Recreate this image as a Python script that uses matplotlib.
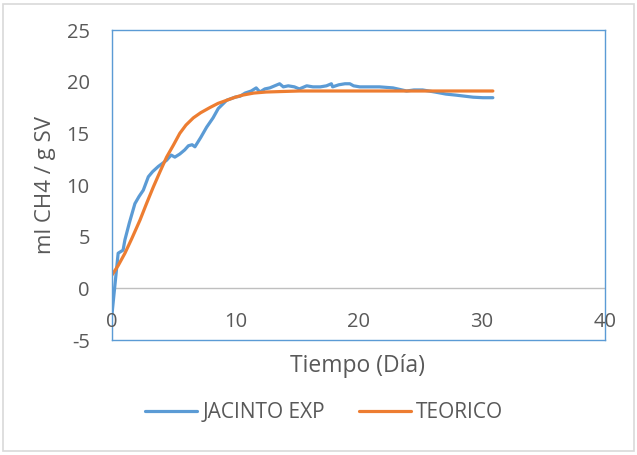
import matplotlib.pyplot as plt
from matplotlib.patches import Rectangle

# Datos
dias_exp = [0.0, 0.5, 0.9, 1.05, 1.4, 1.86, 2.2, 2.54, 2.95, 3.3, 3.76, 4.1, 4.43,
            4.8, 5.1, 5.5, 5.9, 6.2, 6.5, 6.73, 7.2, 7.68, 8.2, 8.62, 9.3, 9.98,
            10.4, 10.8, 11.3, 11.7, 12.0, 12.4, 12.8, 13.2, 13.6, 13.9, 14.3, 14.8,
            15.2, 15.8, 16.3, 16.9, 17.4, 17.8, 17.9, 18.4, 18.9, 19.3, 19.6, 20.1,
            20.9, 21.7, 22.8, 23.9, 24.5, 25.2, 26.2, 27.1, 27.9, 28.6, 29.3, 30.1, 30.9]
jacinto_exp = [-2.5, 3.4, 3.7, 4.7, 6.3, 8.2, 8.9, 9.5, 10.8, 11.3, 11.8, 12.1, 12.4,
               12.9, 12.7, 13.0, 13.4, 13.8, 13.9, 13.7, 14.6, 15.6, 16.5, 17.4, 18.2, 18.5,
               18.6, 18.9, 19.1, 19.4, 19.0, 19.3, 19.4, 19.6, 19.8, 19.5, 19.6, 19.5,
               19.3, 19.6, 19.5, 19.5, 19.6, 19.8, 19.5, 19.7, 19.8, 19.8, 19.6, 19.5,
               19.5, 19.5, 19.4, 19.1, 19.2, 19.2, 19.0, 18.8, 18.7, 18.6, 18.5, 18.45, 18.45]

dias_teo = [0.0, 0.5, 1.05, 1.6, 2.27, 2.8, 3.35, 3.9, 4.43, 5.0, 5.5, 6.0, 6.6,
            7.2, 7.95, 8.6, 9.3, 10.0, 10.6, 11.5, 12.5, 13.8, 15.2, 18.0, 22.0, 26.0, 30.9]
teorico = [1.3, 2.2, 3.4, 4.8, 6.6, 8.2, 9.8, 11.3, 12.7, 13.9, 15.0, 15.8, 16.5,
           17.0, 17.5, 17.9, 18.2, 18.5, 18.7, 18.9, 19.0, 19.05, 19.1, 19.1, 19.1, 19.1, 19.1]

xticks = [0, 10, 20, 30, 40]
yticks = [-5, 0, 5, 10, 15, 20, 25]

AZUL = '#5b9bd5'
NARANJA = '#ed7d31'
GRIS = '#595959'

plt.rcParams['font.family'] = ['Open Sans', 'DejaVu Sans']

fig = plt.figure(figsize=(6.37, 4.55), dpi=100)
# borde del area del grafico
fig.patches.append(Rectangle((0.005, 0.008), 0.99, 0.984, transform=fig.transFigure,
                             fill=False, edgecolor='#d9d9d9', linewidth=1.2))

ax = fig.add_axes([0.1758, 0.2527, 0.774, 0.6813])
ax.plot(dias_exp, jacinto_exp, color=AZUL, linewidth=2.3, label='JACINTO EXP',
        solid_capstyle='round', solid_joinstyle='round')
ax.plot(dias_teo, teorico, color=NARANJA, linewidth=2.3, label='TEORICO',
        solid_capstyle='round', solid_joinstyle='round')

ax.set_xlim(0, 40)
ax.set_ylim(-5, 25)

# ejes cruzando en cero
ax.axhline(0, color='#bfbfbf', linewidth=1.0, zorder=1)
ax.axvline(0, color='#bfbfbf', linewidth=1.5, zorder=1)

for s in ax.spines.values():
    s.set_color(AZUL)
    s.set_linewidth(1.0)

ax.set_yticks(yticks)
ax.set_yticklabels([str(v) for v in yticks], fontsize=14.5, color=GRIS)
ax.tick_params(axis='y', length=0, pad=16)

ax.set_xticks([])
for v in xticks:
    ax.text(v, -3.3, str(v), ha='center', va='center', fontsize=14.5, color=GRIS)

fig.text(45 / 637, 1 - 185 / 455, 'ml CH4 / g SV', rotation=90, ha='center', va='center',
         fontsize=16, color=GRIS)
fig.text(0.562, 1 - 366 / 455, 'Tiempo (Día)', ha='center', va='center', fontsize=16.5, color=GRIS)

fig.legend(loc='center', bbox_to_anchor=(0.509, 1 - 413 / 455), ncol=2, frameon=False,
           fontsize=15, labelcolor=GRIS, handlelength=2.5, handletextpad=0.25,
           columnspacing=1.6)

plt.savefig('out.png', dpi=100)
